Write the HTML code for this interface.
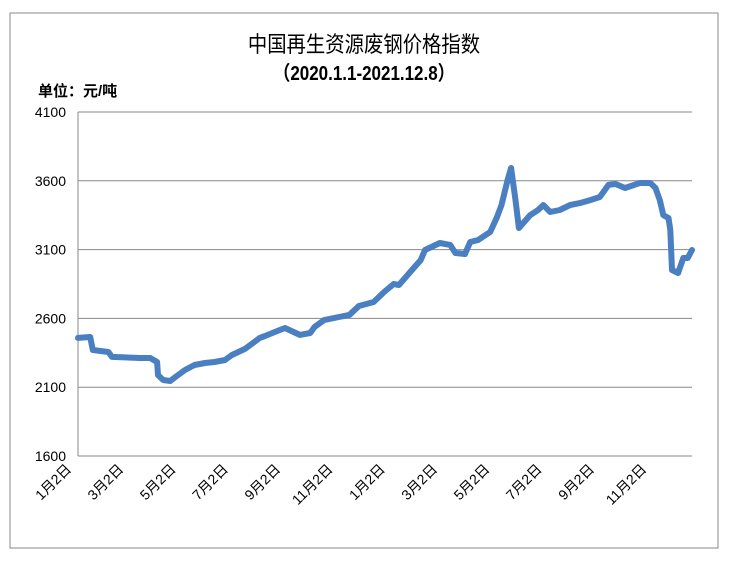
<!DOCTYPE html>
<html><head><meta charset="utf-8"><style>
body{margin:0;background:#fff;width:740px;height:578px;overflow:hidden}
svg text{font-family:"Liberation Sans","Noto Sans CJK SC",sans-serif}
</style></head><body>
<svg id="chart" width="740" height="578" xmlns="http://www.w3.org/2000/svg">
<rect x="10" y="13" width="708" height="535" fill="#fff" stroke="#888" stroke-width="1"/>
<text x="364" y="52" text-anchor="middle" font-size="22" fill="#000" transform="translate(364 0) scale(0.88 1) translate(-364 0)">中国再生资源废钢价格指数</text>
<text x="364" y="80" text-anchor="middle" font-size="20" font-weight="bold" fill="#000" transform="translate(364 0) scale(0.85 1) translate(-364 0)">（2020.1.1-2021.12.8）</text>
<text x="38" y="96" font-size="15" font-weight="bold" fill="#000">单位：元/吨</text>
<g id="grid"></g>
<g id="yticks"></g>
<g id="xticks"></g>
<line x1="78" y1="112" x2="78" y2="456" stroke="#888"/>
<g id="series"></g>
</svg>
<script>
const yTicks=[1600,2100,2600,3100,3600,4100];
const xLabels=["1月2日","3月2日","5月2日","7月2日","9月2日","11月2日","1月2日","3月2日","5月2日","7月2日","9月2日","11月2日"];
const days=[0,14,17,35,39,71,83,91,92,98,106,112,123,134,146,157,169,177,192,209,215,232,238,255,267,272,283,300,312,323,340,352,363,369,386,394,399,416,428,434,445,451,460,474,482,487,494,498,503,507,520,529,535,543,554,566,577,589,600,610,618,629,646,658,664,669,673,679,681,683,690,696,701,706];
const values=[2458,2465,2370,2356,2320,2312,2312,2283,2189,2152,2145,2174,2225,2261,2276,2283,2298,2334,2378,2458,2472,2516,2530,2480,2494,2538,2588,2610,2625,2690,2719,2792,2850,2843,2966,3024,3097,3148,3134,3075,3068,3155,3170,3228,3340,3424,3606,3693,3460,3257,3351,3388,3424,3373,3388,3424,3438,3460,3482,3570,3577,3548,3584,3584,3548,3460,3351,3330,3243,2952,2930,3039,3039,3097];
const X0=78,X1=692,Y0=456,Y1=112,DMAX=706;
const xs=d=>X0+(d/DMAX)*(X1-X0);
const ys=v=>Y0-(v-1600)/(4100-1600)*(Y0-Y1);
const NS="http://www.w3.org/2000/svg";
const g=document.getElementById('grid'),yt=document.getElementById('yticks'),xt=document.getElementById('xticks'),sg=document.getElementById('series');
yTicks.forEach(t=>{
 const l=document.createElementNS(NS,'line');
 l.setAttribute('x1',X0);l.setAttribute('x2',X1);l.setAttribute('y1',ys(t));l.setAttribute('y2',ys(t));
 l.setAttribute('stroke','#888');l.setAttribute('stroke-width','1');
 
 
 g.appendChild(l);
 const tx=document.createElementNS(NS,'text');
 tx.setAttribute('x',66);tx.setAttribute('y',ys(t)+5);tx.setAttribute('text-anchor','end');tx.setAttribute('font-size','14');
 tx.textContent=t;
 
 
 yt.appendChild(tx);
});
xLabels.forEach((s,i)=>{
 const x=X0+i*52.3-6,y=470;
 const tx=document.createElementNS(NS,'text');
 tx.setAttribute('x',x);tx.setAttribute('y',y);tx.setAttribute('text-anchor','end');tx.setAttribute('font-size','14');
 tx.setAttribute('transform','rotate(-45 '+x+' '+y+')');
 tx.textContent=s;
 
 
 xt.appendChild(tx);
});
const n=Math.min(days.length,values.length);
const pts=[];
for(let i=0;i<n;i++)pts.push(xs(days[i]).toFixed(1)+','+ys(values[i]).toFixed(1));
const p=document.createElementNS(NS,'polyline');
p.setAttribute('points',pts.join(' '));
p.setAttribute('fill','none');p.setAttribute('stroke','#4a7fc1');p.setAttribute('stroke-width','6');p.setAttribute('stroke-linejoin','round');p.setAttribute('stroke-linecap','round');


sg.appendChild(p);
</script>
</body></html>
